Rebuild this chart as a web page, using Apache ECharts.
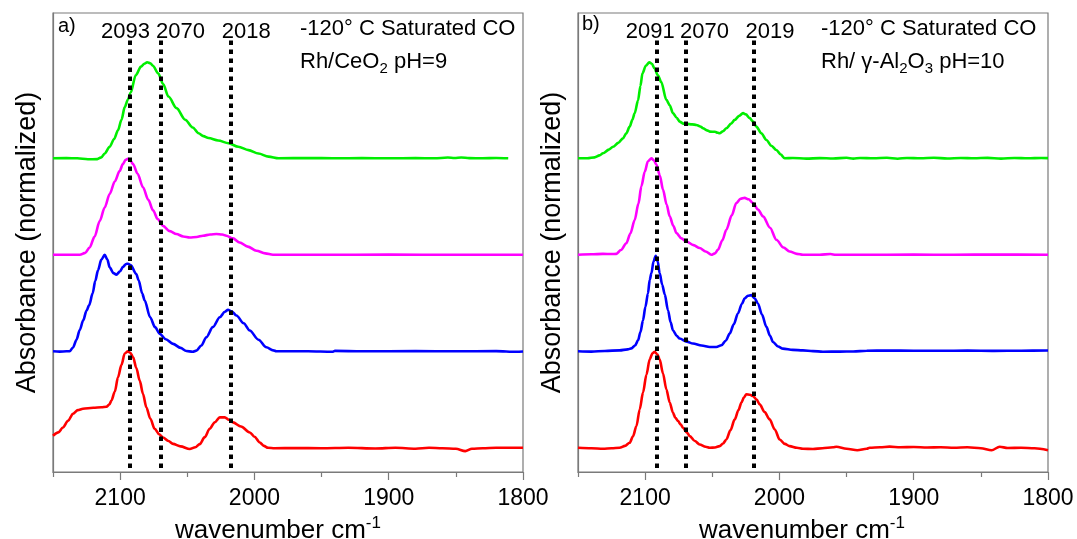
<!DOCTYPE html>
<html>
<head>
<meta charset="utf-8">
<script src="https://cdn.jsdelivr.net/npm/echarts@6/dist/echarts.min.js"></script>
<style>
  html, body { margin: 0; padding: 0; background: #fff; }
  #chart { width: 1077px; height: 539px; }
</style>
</head>
<body>
<div id="chart"></div>
<script>
// IR spectra of CO adsorbed at -120 °C, normalized absorbance vs wavenumber (cm-1)

// Panel a) Rh/CeO2 pH=9
const ceo2Green = [[2150,0],[2140,0.002],[2132,0],[2124,-0.01],[2117,-0.008],[2114,0.01],[2111.5,0.05],[2107.8,0.12],[2104.5,0.2],[2101.6,0.29],[2099,0.4],[2096.6,0.53],[2094.2,0.61],[2092.2,0.68],[2088.4,0.86],[2084.5,0.95],[2082,0.98],[2079.9,0.995],[2077.5,0.985],[2075.6,0.96],[2071.7,0.88],[2068,0.77],[2064,0.64],[2058,0.52],[2051.6,0.4],[2046,0.32],[2041.6,0.26],[2038,0.23],[2034.2,0.21],[2027,0.185],[2019.3,0.156],[2012,0.12],[2004.4,0.085],[1997,0.05],[1989.5,0.017],[1982,0],[1960,0.003],[1940,0],[1920,0.002],[1900,0],[1880,0.002],[1866,0],[1856,0.008],[1851,0.004],[1846,0.009],[1840,0.002],[1830,0],[1820,0.003],[1811,0]];
const ceo2Magenta = [[2150,0],[2140,0],[2130,0],[2126,0.02],[2122.7,0.076],[2119,0.19],[2115.2,0.35],[2111.5,0.49],[2107.8,0.63],[2104,0.76],[2100.3,0.87],[2098,0.94],[2095.9,0.985],[2094.2,0.995],[2092.5,0.98],[2090.4,0.94],[2087,0.84],[2083,0.70],[2079,0.57],[2075.5,0.46],[2072,0.37],[2068.1,0.30],[2063,0.245],[2058.1,0.215],[2053,0.19],[2048.2,0.18],[2043,0.185],[2038.3,0.198],[2033,0.21],[2028.3,0.215],[2024,0.21],[2020.9,0.198],[2016,0.17],[2011,0.128],[2005,0.085],[1998.5,0.042],[1992,0.015],[1986.2,0],[1950,0],[1900,0.002],[1850,0],[1800,0]];
const ceo2Blue = [[2150,0],[2145,-0.003],[2140,0],[2137.6,0],[2135.1,0.04],[2132.5,0.12],[2130.1,0.22],[2127.5,0.32],[2125.1,0.42],[2123,0.48],[2120.5,0.6],[2118.5,0.73],[2116.5,0.84],[2114,0.95],[2111.5,1.0],[2109.5,0.95],[2107.8,0.87],[2105,0.81],[2102.8,0.795],[2100,0.83],[2097.9,0.875],[2095.5,0.905],[2094.2,0.908],[2092,0.89],[2088,0.80],[2086.2,0.735],[2083.6,0.60],[2081.7,0.527],[2077.7,0.353],[2074,0.25],[2070.5,0.181],[2066,0.125],[2060.6,0.077],[2055,0.035],[2050.7,0.003],[2046,-0.005],[2043.2,0.007],[2039.5,0.06],[2035.8,0.146],[2031,0.25],[2025.8,0.353],[2022,0.41],[2019.7,0.43],[2017,0.415],[2013.4,0.371],[2008,0.29],[2003.5,0.215],[1997,0.12],[1991.1,0.042],[1986,0.01],[1983.7,0],[1960,0],[1942,-0.005],[1940,0.004],[1920,0],[1880,0.002],[1850,0],[1820,0.002],[1805,-0.005],[1800,-0.002]];
const ceo2Red = [[2150,0.125],[2146,0.16],[2142.6,0.21],[2138.8,0.28],[2135.1,0.353],[2131.5,0.39],[2127.7,0.405],[2120,0.415],[2114,0.42],[2110.2,0.426],[2108,0.45],[2106.5,0.49],[2104,0.58],[2101.6,0.73],[2099,0.86],[2096.6,0.977],[2094.2,1.0],[2092.5,0.985],[2090.4,0.94],[2088,0.83],[2085.4,0.696],[2083,0.56],[2080.5,0.42],[2077.5,0.3],[2074.3,0.198],[2071,0.14],[2068.1,0.107],[2064,0.07],[2060.6,0.04],[2055,0.015],[2048.2,-0.013],[2044,0.005],[2040.7,0.038],[2037,0.11],[2033.3,0.198],[2029.5,0.265],[2025.8,0.315],[2022.1,0.315],[2019,0.29],[2016,0.263],[2010,0.22],[2003.4,0.159],[2000,0.115],[1996,0.055],[1993,0.02],[1989.9,0],[1985,-0.005],[1970,-0.003],[1950,-0.005],[1930,0],[1910,-0.008],[1895,0],[1880,-0.01],[1870,0],[1860,-0.005],[1850,-0.01],[1843,-0.035],[1838,-0.01],[1830,-0.005],[1820,0],[1810,0],[1800,0]];

// Panel b) Rh/γ-Al2O3 pH=10
const alGreen = [[2150,0],[2143,0],[2137.6,0.01],[2134,0.03],[2131.4,0.052],[2127,0.09],[2123.9,0.12],[2120,0.16],[2116.5,0.207],[2114,0.26],[2111.5,0.328],[2109.5,0.4],[2107.8,0.466],[2105.3,0.6],[2103.5,0.75],[2102,0.88],[2099.5,0.96],[2096.9,0.995],[2095,0.98],[2093.1,0.934],[2090.5,0.86],[2088,0.79],[2084.2,0.606],[2081.7,0.55],[2079.3,0.468],[2076.5,0.42],[2074.3,0.38],[2071.5,0.36],[2069.3,0.357],[2065,0.352],[2061.8,0.346],[2059,0.33],[2056.9,0.312],[2054,0.29],[2051.9,0.277],[2048,0.275],[2046,0.265],[2044.5,0.26],[2042,0.28],[2039.5,0.312],[2036,0.36],[2033.3,0.398],[2030,0.44],[2027.1,0.468],[2025,0.455],[2022.2,0.416],[2019.5,0.38],[2017.2,0.328],[2013.5,0.26],[2009.7,0.19],[2006,0.13],[2002.3,0.086],[1999,0.04],[1996.1,0],[1990,0.003],[1980,-0.003],[1970,0.002],[1960,-0.002],[1950,0.006],[1945,-0.003],[1940,0.004],[1930,0],[1920,0.006],[1912,-0.004],[1905,0.004],[1895,0],[1885,0.006],[1875,-0.002],[1865,0.004],[1855,0],[1845,0.005],[1835,-0.003],[1825,0.004],[1815,0],[1805,0.004],[1800,0.002]];
const alMagenta = [[2150,0],[2140,0.005],[2131.4,0.01],[2125,0.008],[2121.4,0.01],[2118,0.05],[2114,0.12],[2111,0.22],[2107.8,0.36],[2105,0.53],[2102.8,0.71],[2100.3,0.86],[2097.9,0.97],[2095.3,1.0],[2093.5,0.98],[2091.6,0.935],[2089,0.82],[2086.7,0.675],[2084,0.52],[2081.7,0.398],[2079,0.3],[2076.7,0.225],[2073,0.17],[2069.3,0.138],[2064,0.1],[2059.4,0.07],[2055,0.035],[2050.7,0],[2048,0.015],[2045.8,0.052],[2042.5,0.15],[2039.5,0.26],[2035.5,0.41],[2032.1,0.537],[2029,0.58],[2025.9,0.59],[2023,0.575],[2019.7,0.537],[2016,0.47],[2012.2,0.398],[2007,0.28],[2002.3,0.156],[1997,0.075],[1992.4,0.034],[1987,0.01],[1982.5,0],[1970,0],[1962,0.008],[1958,0],[1940,0],[1900,0.002],[1870,0],[1840,0.003],[1800,0]];
const alBlue = [[2150,0],[2140,-0.003],[2130,0.003],[2119,0.01],[2113,0.02],[2110.2,0.03],[2107.5,0.06],[2105.3,0.114],[2103.5,0.2],[2101.6,0.32],[2099.8,0.46],[2097.9,0.6],[2096.6,0.74],[2095.3,0.81],[2093.8,0.93],[2092.1,0.99],[2090.6,0.93],[2089.2,0.81],[2087.3,0.69],[2085.4,0.59],[2083,0.426],[2081,0.3],[2079.3,0.218],[2076.5,0.16],[2074.3,0.132],[2069,0.1],[2064.4,0.08],[2058,0.06],[2051.9,0.045],[2047,0.045],[2043.2,0.062],[2040,0.11],[2037,0.184],[2034,0.28],[2030.9,0.392],[2028,0.49],[2025.9,0.548],[2023.5,0.575],[2020.9,0.582],[2018.5,0.55],[2016,0.496],[2013,0.38],[2009.7,0.253],[2007,0.16],[2004.8,0.097],[2001,0.05],[1997.4,0.028],[1990,0.015],[1982.5,0.01],[1975,0.002],[1967.6,-0.004],[1955,-0.003],[1945,-0.002],[1935,0.006],[1920,0.008],[1900,0.006],[1880,0.005],[1860,0.007],[1840,0.004],[1820,0.006],[1800,0.008]];
const alRed = [[2150,0],[2140,-0.005],[2131.4,-0.01],[2125,-0.005],[2119,0],[2115,0.02],[2111.5,0.052],[2109,0.12],[2106.5,0.225],[2104,0.4],[2101.6,0.572],[2099,0.76],[2096.6,0.918],[2094.5,0.98],[2092.9,0.994],[2091,0.97],[2089.2,0.918],[2086.7,0.77],[2084.2,0.606],[2081.7,0.47],[2079.3,0.364],[2077.5,0.31],[2075.5,0.277],[2073.5,0.24],[2071.8,0.208],[2069,0.16],[2066.8,0.121],[2063,0.07],[2059.4,0.034],[2055,0.01],[2051.9,0],[2048,0.003],[2044.5,0.017],[2042,0.045],[2039.5,0.086],[2036.5,0.18],[2033.3,0.294],[2030.5,0.39],[2028.3,0.468],[2026.5,0.52],[2024.6,0.554],[2022,0.55],[2019.7,0.536],[2017,0.5],[2014.7,0.45],[2011,0.37],[2007.3,0.294],[2003.5,0.19],[1999.8,0.086],[1996,0.04],[1992.4,0.017],[1987,0],[1982.5,-0.01],[1975,-0.012],[1968,-0.005],[1960,0.005],[1957.6,0.01],[1950,-0.01],[1942,-0.025],[1935,-0.01],[1932.8,0],[1925,0.005],[1918,0.012],[1910,0.005],[1900,0.008],[1890,0.003],[1880,0.006],[1870,0],[1860,0.005],[1850,-0.005],[1842,-0.025],[1836,0.01],[1830,-0.002],[1820,0],[1810,-0.005],[1800,-0.025]];

// marked band positions (cm-1)
const peaksA = [2093, 2070, 2018];
const peaksB = [2091, 2070, 2019];

// axis ticks
const majorTicks = [1800, 1900, 2000, 2100];
const minorTicks = [1850, 1950, 2050, 2150];

// ---- drawing ----
const FONT = '"Liberation Sans", Arial, Helvetica, sans-serif';
const AXIS_GRAY = '#7a7a7a';
const Y_MIN = -0.251, Y_MAX = 4.506;
const LINE_BOTTOM = -0.21, LINE_TOP = 4.22;

const colors = { green: '#00ee00', magenta: '#ff00ff', blue: '#0000ff', red: '#ff0000' };

function shifted(data, offset) {
  return data.map(p => [p[0], p[1] + offset]);
}

function spectrum(data, offset, color, axisIdx) {
  return {
    type: 'line',
    xAxisIndex: axisIdx.x,
    yAxisIndex: axisIdx.y,
    data: shifted(data, offset),
    showSymbol: false,
    smooth: 0.3,
    smoothMonotone: 'x',
    lineStyle: { color: color, width: 2.6 },
    itemStyle: { color: color },
    silent: true,
    z: 2
  };
}

function bandMarkers(peaks, labelDx, axisIdx) {
  return {
    type: 'scatter',
    xAxisIndex: axisIdx.x,
    yAxisIndex: axisIdx.y,
    symbolSize: 0,
    silent: true,
    z: 5,
    itemStyle: { opacity: 1, color: '#000' },
    data: peaks.map((v, i) => ({
      value: [v, LINE_TOP],
      label: { offset: [labelDx[i], -9] }
    })),
    label: {
      show: true,
      position: 'inside',
      formatter: p => String(p.value[0]),
      fontFamily: FONT,
      fontSize: 22,
      color: '#000',
      opacity: 1,
      textBorderWidth: 0
    },
    markLine: {
      silent: true,
      symbol: ['none', 'none'],
      label: { show: false },
      lineStyle: { color: '#000', width: 4, type: [4.5, 4.5], opacity: 1 },
      emphasis: { disabled: true },
      data: peaks.map(v => [{ coord: [v, LINE_BOTTOM] }, { coord: [v, LINE_TOP] }])
    }
  };
}

function mainXAxis(gridIndex, namePadRight) {
  return {
    gridIndex: gridIndex,
    type: 'value',
    min: 1800,
    max: 2150,
    interval: 50,
    inverse: true,
    position: 'bottom',
    name: '{t|wavenumber cm}{p|-1}',
    nameLocation: 'middle',
    nameGap: 40,
    nameTextStyle: {
      padding: [0, namePadRight, 0, 0],
      rich: {
        t: { fontFamily: FONT, fontSize: 26, lineHeight: 34, color: '#000' },
        p: { fontFamily: FONT, fontSize: 17, lineHeight: 17, padding: [0, 0, 15, 0], color: '#000' }
      }
    },
    axisLine: { show: true, onZero: false, lineStyle: { color: AXIS_GRAY, width: 1.2 } },
    axisTick: { show: true, inside: false, length: 8, customValues: majorTicks, lineStyle: { color: AXIS_GRAY, width: 1.2 } },
    axisLabel: { show: true, customValues: majorTicks, formatter: v => String(v), margin: 15, fontFamily: FONT, fontSize: 23, color: '#000' },
    splitLine: { show: false }
  };
}

function minorXAxis(gridIndex) {
  return {
    gridIndex: gridIndex,
    type: 'value',
    min: 1800,
    max: 2150,
    interval: 50,
    inverse: true,
    position: 'bottom',
    offset: 0,
    axisLine: { show: false, onZero: false },
    axisTick: { show: true, length: 5, customValues: minorTicks, lineStyle: { color: AXIS_GRAY, width: 1.2 } },
    axisLabel: { show: false },
    splitLine: { show: false }
  };
}

function yAxis(gridIndex) {
  return {
    gridIndex: gridIndex,
    type: 'value',
    min: Y_MIN,
    max: Y_MAX,
    name: 'Absorbance (normalized)',
    nameLocation: 'middle',
    nameGap: 12,
    nameTextStyle: { fontFamily: FONT, fontSize: 27, color: '#000' },
    axisLine: { show: true, onZero: false, lineStyle: { color: AXIS_GRAY, width: 1.2 } },
    axisTick: { show: false },
    axisLabel: { show: false },
    splitLine: { show: false }
  };
}

const A = { x: 0, y: 0 };
const B = { x: 2, y: 1 };

const noteRich = {
  t: { fontFamily: FONT, fontSize: 22, lineHeight: 30, fill: '#000', color: '#000' },
  s: { fontFamily: FONT, fontSize: 15, lineHeight: 15, padding: [13, 0, 0, 0], fill: '#000', color: '#000' }
};

function note(x, y, text) {
  return {
    type: 'text',
    silent: true,
    style: { x: x, y: y, text: text, rich: noteRich, align: 'left', verticalAlign: 'middle' }
  };
}

const option = {
  animation: false,
  backgroundColor: '#fff',
  grid: [
    { left: 53, right: 554, top: 13, bottom: 67, show: true, borderColor: AXIS_GRAY, borderWidth: 1.2, backgroundColor: 'transparent', outerBoundsMode: 'none' },
    { left: 578, right: 29, top: 13, bottom: 67, show: true, borderColor: AXIS_GRAY, borderWidth: 1.2, backgroundColor: 'transparent', outerBoundsMode: 'none' }
  ],
  xAxis: [mainXAxis(0, 20), minorXAxis(0), mainXAxis(1, 22), minorXAxis(1)],
  yAxis: [yAxis(0), yAxis(1)],
  series: [
    spectrum(ceo2Green, 3, colors.green, A),
    spectrum(ceo2Magenta, 2, colors.magenta, A),
    spectrum(ceo2Blue, 1, colors.blue, A),
    spectrum(ceo2Red, 0, colors.red, A),
    spectrum(alGreen, 3, colors.green, B),
    spectrum(alMagenta, 2, colors.magenta, B),
    spectrum(alBlue, 1, colors.blue, B),
    spectrum(alRed, 0, colors.red, B),
    bandMarkers(peaksA, [-4, 20, 16], A),
    bandMarkers(peaksB, [-7, 19, 16], B)
  ],
  graphic: [
    { type: 'text', silent: true, style: { x: 58, y: 26, text: 'a)', font: '20px ' + FONT, fill: '#000', align: 'left', verticalAlign: 'middle' } },
    { type: 'text', silent: true, style: { x: 582, y: 24, text: 'b)', font: '20px ' + FONT, fill: '#000', align: 'left', verticalAlign: 'middle' } },
    note(300, 29, '{t|-120° C Saturated CO}'),
    note(300, 62, '{t|Rh/CeO}{s|2}{t| pH=9}'),
    note(821, 29, '{t|-120° C Saturated CO}'),
    note(821, 62, '{t|Rh/ γ-Al}{s|2}{t|O}{s|3}{t| pH=10}')
  ]
};

const chart = echarts.init(document.getElementById('chart'), null, { renderer: 'canvas' });
chart.setOption(option);
</script>
</body>
</html>
